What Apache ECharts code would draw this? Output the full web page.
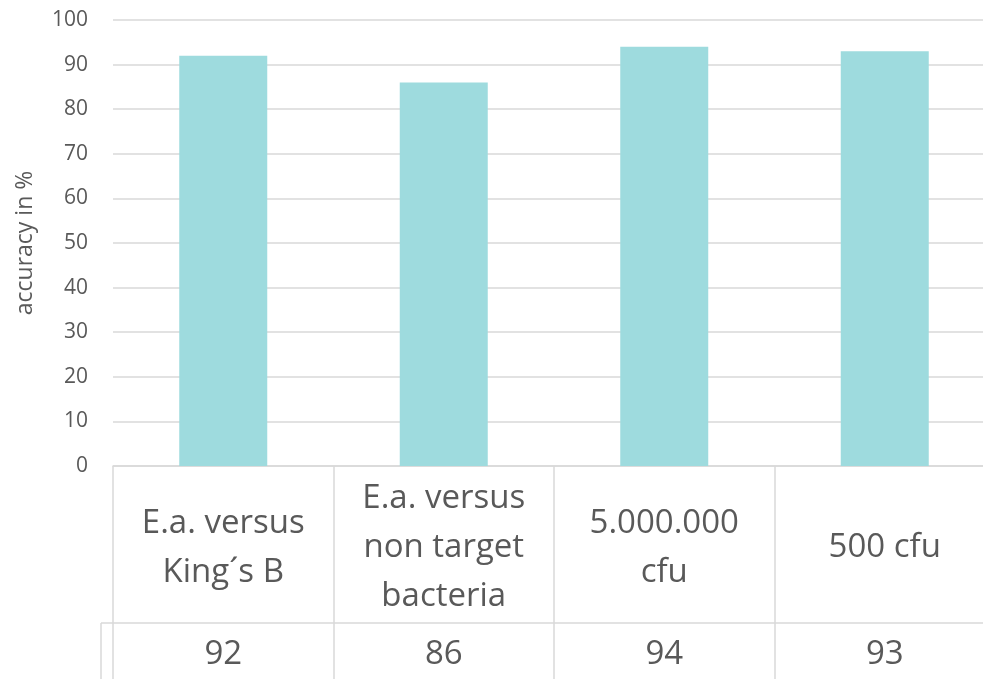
<!DOCTYPE html>
<html>
<head>
<meta charset="utf-8">
<script src="https://cdn.jsdelivr.net/npm/echarts@6/dist/echarts.min.js"></script>
<style>
html,body{margin:0;padding:0;background:#fff;}
#chart{width:983px;height:679px;}
</style>
</head>
<body>
<div id="chart"></div>
<script>
var categories = ["E.a. versus\nKing´s B", "E.a. versus\nnon target\nbacteria", "5.000.000\ncfu", "500 cfu"];
var accuracy = [92, 86, 94, 93];
var yTicks = [0, 10, 20, 30, 40, 50, 60, 70, 80, 90, 100];

var FONT = '"Open Sans", "Noto Sans", sans-serif';
var TXT = '#595959';
var GRID = '#d9d9d9';

var chart = echarts.init(document.getElementById('chart'), null, {renderer: 'canvas'});
chart.setOption({
  animation: false,
  backgroundColor: '#ffffff',
  grid: {left: 113, top: 20, width: 882, height: 446, containLabel: false, outerBoundsMode: 'none'},
  yAxis: {
    type: 'value',
    min: yTicks[0],
    max: yTicks[yTicks.length - 1],
    interval: yTicks[1] - yTicks[0],
    name: 'accuracy in %',
    nameLocation: 'middle',
    nameGap: 76,
    nameTextStyle: {fontFamily: FONT, fontSize: 23, color: TXT},
    axisLine: {show: false},
    axisTick: {show: false},
    axisLabel: {fontFamily: FONT, fontSize: 21, color: TXT, margin: 25},
    splitLine: {lineStyle: {color: GRID, width: 1.5}}
  },
  xAxis: [{
    type: 'category',
    data: categories,
    position: 'bottom',
    axisLine: {show: true, lineStyle: {color: GRID, width: 1.5}},
    axisTick: {show: true, length: 213, lineStyle: {color: GRID, width: 1.5}},
    axisLabel: {interval: 0, fontFamily: FONT, fontSize: 33, lineHeight: 49, color: TXT,
      margin: 82, verticalAlign: 'middle', align: 'center'}
  }, {
    type: 'category',
    data: accuracy.map(function (v) { return String(v); }),
    position: 'bottom',
    axisLine: {show: false},
    axisTick: {show: false},
    axisLabel: {interval: 0, fontFamily: FONT, fontSize: 33, color: TXT,
      margin: 189, verticalAlign: 'middle', align: 'center'}
  }],
  graphic: [
    {type: 'line', shape: {x1: 101, y1: 623, x2: 983, y2: 623}, style: {stroke: GRID, lineWidth: 1.5}, silent: true},
    {type: 'line', shape: {x1: 101, y1: 623, x2: 101, y2: 679}, style: {stroke: GRID, lineWidth: 1.5}, silent: true}
  ],
  series: [{
    type: 'bar',
    data: accuracy,
    barWidth: 88,
    itemStyle: {color: '#9EDBDE'}
  }]
});
</script>
</body>
</html>
